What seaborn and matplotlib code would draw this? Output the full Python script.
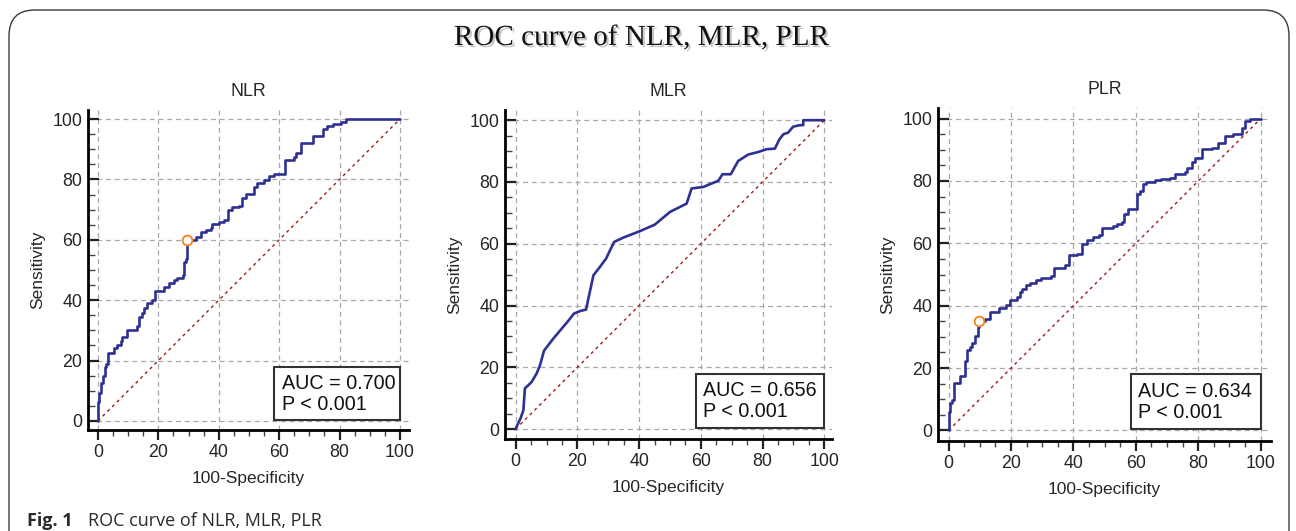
import numpy as np
import pandas as pd
import matplotlib
matplotlib.use("Agg")
import matplotlib.pyplot as plt
import matplotlib.patheffects as pe
from matplotlib.patches import Rectangle, FancyBboxPatch
from matplotlib.ticker import MultipleLocator
import seaborn as sns

# ---------------- data ----------------
panels = ["NLR", "MLR", "PLR"]
auc_text = ["AUC = 0.700\nP < 0.001", "AUC = 0.656\nP < 0.001", "AUC = 0.634\nP < 0.001"]

nlr_x = [0, 0, 0.3, 0.9, 1.8, 2.2, 2.7, 3.3, 5.3, 6.4, 7.5, 8.0, 9.5, 13.0, 13.6, 14.7, 15.2, 16.4, 18.0, 18.9,
         21.9, 23.5, 25.2, 26.3, 28.2, 28.5, 29.3, 29.4, 32.4, 34.0, 35.7, 37.3, 37.9, 40.1, 41.8, 42.9, 44.5, 46.7,
         47.6, 49.0, 51.7, 52.8, 55.0, 56.7, 58.3, 61.9, 65.0, 65.7, 67.2, 70.0, 71.3, 74.4, 76.0, 77.7, 80.4, 82.1, 100]
nlr_y = [0, 6.4, 9.2, 12.5, 15.0, 18.0, 19.0, 22.4, 24.0, 25.0, 26.6, 27.7, 30.0, 31.5, 34.5, 35.7, 37.3, 39.0, 40.0, 43.2,
         44.5, 45.8, 46.7, 47.4, 48.3, 52.8, 53.5, 60.0, 61.0, 62.7, 63.2, 63.8, 65.2, 66.0, 66.6, 69.9, 70.8, 71.2,
         73.8, 75.2, 77.4, 78.7, 79.8, 81.0, 81.8, 86.6, 87.3, 88.9, 92.0, 92.2, 94.4, 96.6, 97.7, 98.3, 99.0, 100, 100]

mlr_x = [0, 0.3, 1.6, 2.5, 3.0, 4.1, 5.2, 6.8, 7.9, 9.2, 12.2, 15.4, 17.1, 18.9, 20.8, 22.8, 25.2, 27.3, 29.3, 31.9,
         34.9, 40.3, 45.1, 50.0, 55.4, 57.0, 60.8, 65.7, 67.0, 69.7, 72.1, 75.4, 78.6, 81.3, 84.0, 85.4, 86.7, 88.3,
         89.9, 92.1, 93.2, 93.2, 100]
mlr_y = [0, 0.8, 3.5, 6.1, 13.2, 14.2, 15.3, 18.0, 20.7, 25.4, 29.3, 33.1, 35.1, 37.4, 38.2, 38.7, 49.8, 52.5, 55.2, 60.6,
         62.0, 64.1, 66.2, 70.3, 73.0, 77.9, 78.4, 80.4, 82.5, 82.5, 86.8, 88.9, 89.7, 90.6, 90.8, 93.7, 95.4, 96.0,
         97.9, 98.4, 98.4, 100, 100]

plr_x = [0, 0, 0.3, 1.2, 1.6, 3.7, 5.4, 5.9, 7.0, 7.6, 8.3, 9.4, 9.6, 11.6, 13.4, 16.1, 18.5, 19.8, 21.9, 22.8,
         23.6, 24.9, 26.2, 28.1, 29.7, 32.9, 33.7, 37.2, 38.6, 41.0, 42.6, 44.2, 46.3, 48.2, 49.0, 52.7, 53.8, 55.7,
         56.2, 57.5, 60.4, 61.3, 62.4, 63.2, 66.0, 68.2, 70.9, 72.5, 75.7, 76.5, 77.9, 78.9, 81.1, 84.3, 86.4, 88.6,
         91.2, 93.6, 93.9, 95.0, 96.6, 100]
plr_y = [0, 5.9, 8.8, 9.6, 15.2, 17.5, 22.2, 25.7, 26.7, 28.0, 30.3, 33.2, 35.1, 35.8, 37.9, 39.4, 40.1, 41.7, 42.8, 44.4,
         45.5, 46.5, 47.3, 48.1, 48.9, 49.4, 52.1, 53.2, 56.1, 56.7, 59.7, 61.0, 62.0, 62.6, 65.0, 65.5, 66.1, 66.8,
         69.5, 71.1, 75.7, 76.8, 79.1, 79.7, 80.2, 80.7, 81.0, 82.1, 82.9, 84.0, 86.1, 87.5, 90.1, 90.7, 92.2, 94.3,
         95.0, 95.2, 97.1, 99.2, 100, 100]

curves_x = [nlr_x, mlr_x, plr_x]
curves_y = [nlr_y, mlr_y, plr_y]
step_style = ["steps-post", "default", "steps-post"]
opt_point = [(29.4, 60.0), None, (9.6, 35.1)]
ticks = [0, 20, 40, 60, 80, 100]

# ---------------- style ----------------
sns.set_theme(style="white")
plt.rcParams["font.family"] = ["Liberation Sans", "DejaVu Sans"]

W, H = 1296, 531
fig = plt.figure(figsize=(W / 100, H / 100), dpi=100)

# rounded frame around the figure
frame = FancyBboxPatch((9 / W, -0.2), (1289 - 9) / W, (H - 10) / H + 0.2,
                       boxstyle="round,pad=0,rounding_size=0.02",
                       transform=fig.transFigure, facecolor="none",
                       edgecolor="#3a3a3a", lw=1.0, mutation_aspect=W / H)
fig.patches.append(frame)

# axes pixel boxes: left, right, bottom, top
boxes = [(88, 409, 430, 110), (505, 832, 439, 110), (938, 1271, 441, 108)]
xlims = [(-3.3, 103.0), (-3.45, 102.5), (-3.4, 103.3)]
ylims = [(-3.0, 103.0), (-3.2, 103.3), (-3.4, 103.4)]

curve_col = "#2e3192"
diag_col = "#a01818"
grid_col = "#a8a8a8"

for i, name in enumerate(panels):
    l, r, b, t = boxes[i]
    ax = fig.add_axes([l / W, 1 - b / H, (r - l) / W, (b - t) / H])
    ax.set_xlim(*xlims[i])
    ax.set_ylim(*ylims[i])

    df = pd.DataFrame({"fpr": curves_x[i], "tpr": curves_y[i]})
    ax.plot([0, 100], [0, 100], color=diag_col, lw=1.0, ls=(0, (2.2, 2.6)), zorder=2)
    sns.lineplot(data=df, x="fpr", y="tpr", ax=ax, estimator=None, sort=False,
                 color=curve_col, lw=1.9, drawstyle=step_style[i], zorder=3)
    if opt_point[i] is not None:
        ax.plot([opt_point[i][0]], [opt_point[i][1]], marker="o", ms=7, mfc="white",
                mec="#f58220", mew=1.3, ls="none", zorder=4)

    ax.add_patch(Rectangle((58.3, 0.3), 41.7, 17.7, facecolor="white",
                           edgecolor="#333333", lw=1.5, zorder=5))
    ax.text(60.8, 9.0, auc_text[i], fontsize=14.2, va="center", ha="left",
            linespacing=1.15, zorder=6, color="#111111")

    ax.set_xticks(ticks)
    ax.set_yticks(ticks)
    ax.xaxis.set_minor_locator(MultipleLocator(5))
    ax.yaxis.set_minor_locator(MultipleLocator(5))
    ax.grid(True, which="major", color=grid_col, ls=(0, (4, 3)), lw=0.9)
    ax.set_axisbelow(True)

    for s in ["top", "right"]:
        ax.spines[s].set_visible(False)
    for s in ["left", "bottom"]:
        ax.spines[s].set_color("black")
        ax.spines[s].set_linewidth(2.0)

    ax.tick_params(axis="y", which="major", direction="in", length=8, width=1.6,
                   color="#222222", labelsize=12.8, pad=4, left=True)
    ax.tick_params(axis="y", which="minor", direction="in", length=5, width=1.0,
                   color="#444444", left=True)
    ax.tick_params(axis="x", which="major", direction="out", length=7, width=1.6,
                   color="#222222", labelsize=12.8, pad=3, bottom=True)
    ax.tick_params(axis="x", which="minor", direction="out", length=4, width=1.0,
                   color="#444444", bottom=True)

    ax.set_xlabel("100-Specificity", fontsize=12.5, labelpad=7)
    ax.set_ylabel("Sensitivity", fontsize=12.5, labelpad=5)
    ax.set_title(name, fontsize=12.8, pad=10)

# main title with soft shadow
fig.text(641 / W, 1 - 38 / H, "ROC curve of NLR, MLR, PLR", ha="center", va="center",
         fontsize=21, family=["Liberation Serif", "DejaVu Serif"], color="#111111",
         path_effects=[pe.SimplePatchShadow(offset=(1.5, -1.5), shadow_rgbFace="#888888", alpha=0.5),
                       pe.Normal()])

# caption
fig.text(27 / W, 1 - 521 / H, "Fig. 1", ha="left", va="center", fontsize=13,
         fontweight="bold", family=["Open Sans", "DejaVu Sans"], color="#2a2a2a")
fig.text(88 / W, 1 - 521 / H, "ROC curve of NLR, MLR, PLR", ha="left", va="center", fontsize=13,
         family=["Open Sans", "DejaVu Sans"], color="#2a2a2a")

fig.savefig("out.png", dpi=100)
